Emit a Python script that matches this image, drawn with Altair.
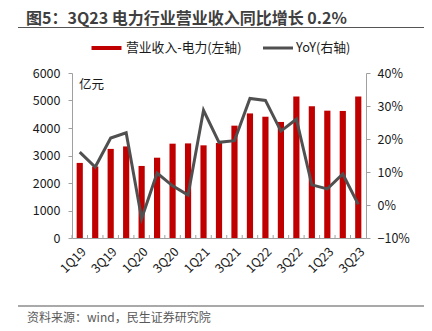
import altair as alt
import pandas as pd

quarters = ["1Q19", "2Q19", "3Q19", "4Q19", "1Q20", "2Q20", "3Q20", "4Q20",
            "1Q21", "2Q21", "3Q21", "4Q21", "1Q22", "2Q22", "3Q22", "4Q22",
            "1Q23", "2Q23", "3Q23"]
revenue = [2730, 2600, 3240, 3330, 2620, 2920, 3430, 3440,
           3370, 3455, 4085, 4530, 4410, 4220, 5150, 4790,
           4630, 4620, 5150]
yoy = [16.0, 11.5, 20.3, 21.9, -4.1, 9.7, 5.8, 3.0,
       28.7, 19.0, 19.5, 32.3, 31.7, 22.4, 26.0, 6.1,
       4.9, 9.4, 0.2]

title_text = "图5：3Q23 电力行业营业收入同比增长 0.2%"
legend_bar = "营业收入-电力(左轴)"
legend_line = "YoY(右轴)"
unit_text = "亿元"
source_text = "资料来源：wind，民生证券研究院"

FONT = "Noto Sans CJK SC"
RED = "#C00000"
GRAY_LINE = "#505050"
AXIS_GRAY = "#A0A0A0"
LABEL = "#1a1a1a"

df = pd.DataFrame({"q": quarters, "rev": revenue, "yoy": [v / 100 for v in yoy]})
one = pd.DataFrame({"a": [0]})

xenc = alt.X("q:N", sort=quarters, title=None,
             scale=alt.Scale(paddingInner=0.6, paddingOuter=0.3),
             axis=alt.Axis(orient="bottom", labelAngle=-45, labelFontSize=12.5, labelFont=FONT,
                           labelColor=LABEL, labelPadding=7,
                           labelOverlap=False, ticks=False,
                           domainColor=AXIS_GRAY,
                           labelExpr="(slice(datum.value,0,1)=='1' || slice(datum.value,0,1)=='3') ? datum.label : ''"))

bars = alt.Chart(df).mark_bar(color=RED).encode(
    x=xenc,
    y=alt.Y("rev:Q", title=None,
            scale=alt.Scale(domain=[0, 6000], nice=False),
            axis=alt.Axis(orient="left", values=[0, 1000, 2000, 3000, 4000, 5000, 6000],
                          format="d", grid=False, labelFontSize=12.5, labelFont=FONT,
                          labelColor=LABEL, labelPadding=8, tickSize=4,
                          tickColor=AXIS_GRAY, domainColor=AXIS_GRAY)),
)

line = alt.Chart(df).mark_line(color=GRAY_LINE, strokeWidth=3).encode(
    x=alt.X("q:N", sort=quarters),
    y=alt.Y("yoy:Q", title=None,
            scale=alt.Scale(domain=[-0.1, 0.4], nice=False),
            axis=alt.Axis(orient="right", format=".0%",
                          values=[-0.1, 0, 0.1, 0.2, 0.3, 0.4],
                          grid=False, labelFontSize=12.5, labelFont=FONT,
                          labelColor=LABEL, labelPadding=7, tickSize=4,
                          tickColor=AXIS_GRAY, domainColor=AXIS_GRAY)),
)

main = alt.layer(bars, line).resolve_scale(y="independent")

# small inward ticks at the boundaries between quarters
xticks = alt.Chart(df).mark_rule(color=AXIS_GRAY, strokeWidth=1, xOffset=-7.737).encode(
    x=alt.X("q:N", sort=quarters), y=alt.value(165), y2=alt.value(162))

base = alt.Chart(one)

title = base.mark_text(align="left", baseline="alphabetic", fontSize=16,
                       fontWeight="bold", font=FONT, color="#3F3F3F").encode(
    text=alt.value(title_text), x=alt.value(-46), y=alt.value(-49))
title_rule = base.mark_rule(color="#555555", strokeWidth=1.2).encode(
    x=alt.value(-54), x2=alt.value(352), y=alt.value(-45.5))

leg_rect = base.mark_rule(color=RED, strokeWidth=4).encode(
    x=alt.value(19.5), x2=alt.value(49.5), y=alt.value(-25))
leg_text1 = base.mark_text(align="left", baseline="middle", fontSize=12.8,
                           font=FONT, color=LABEL).encode(
    text=alt.value(legend_bar), x=alt.value(54), y=alt.value(-25))
leg_line = base.mark_rule(color=GRAY_LINE, strokeWidth=3).encode(
    x=alt.value(191), x2=alt.value(221), y=alt.value(-25))
leg_text2 = base.mark_text(align="left", baseline="middle", fontSize=12.8,
                           font=FONT, color=LABEL).encode(
    text=alt.value(legend_line), x=alt.value(224), y=alt.value(-25))

unit = base.mark_text(align="left", baseline="middle", fontSize=12.5,
                      font=FONT, color=LABEL).encode(
    text=alt.value(unit_text), x=alt.value(7), y=alt.value(12))

src_rule = base.mark_rule(color="#555555", strokeWidth=1.2).encode(
    x=alt.value(-54), x2=alt.value(352), y=alt.value(233))
src = base.mark_text(align="left", baseline="middle", fontSize=12,
                     font=FONT, color="#595959").encode(
    text=alt.value(source_text), x=alt.value(-45), y=alt.value(245))

chart = alt.layer(
    main, xticks, title, title_rule, leg_rect, leg_text1, leg_line, leg_text2,
    unit, src_rule, src
).properties(
    width=294, height=165,
    autosize=alt.AutoSizeParams(type="none"),
    padding={"left": 72, "top": 73, "right": 66, "bottom": 93},
).configure_view(stroke=None)

chart.save("out.html", embed_options={"renderer": "svg", "actions": False})
